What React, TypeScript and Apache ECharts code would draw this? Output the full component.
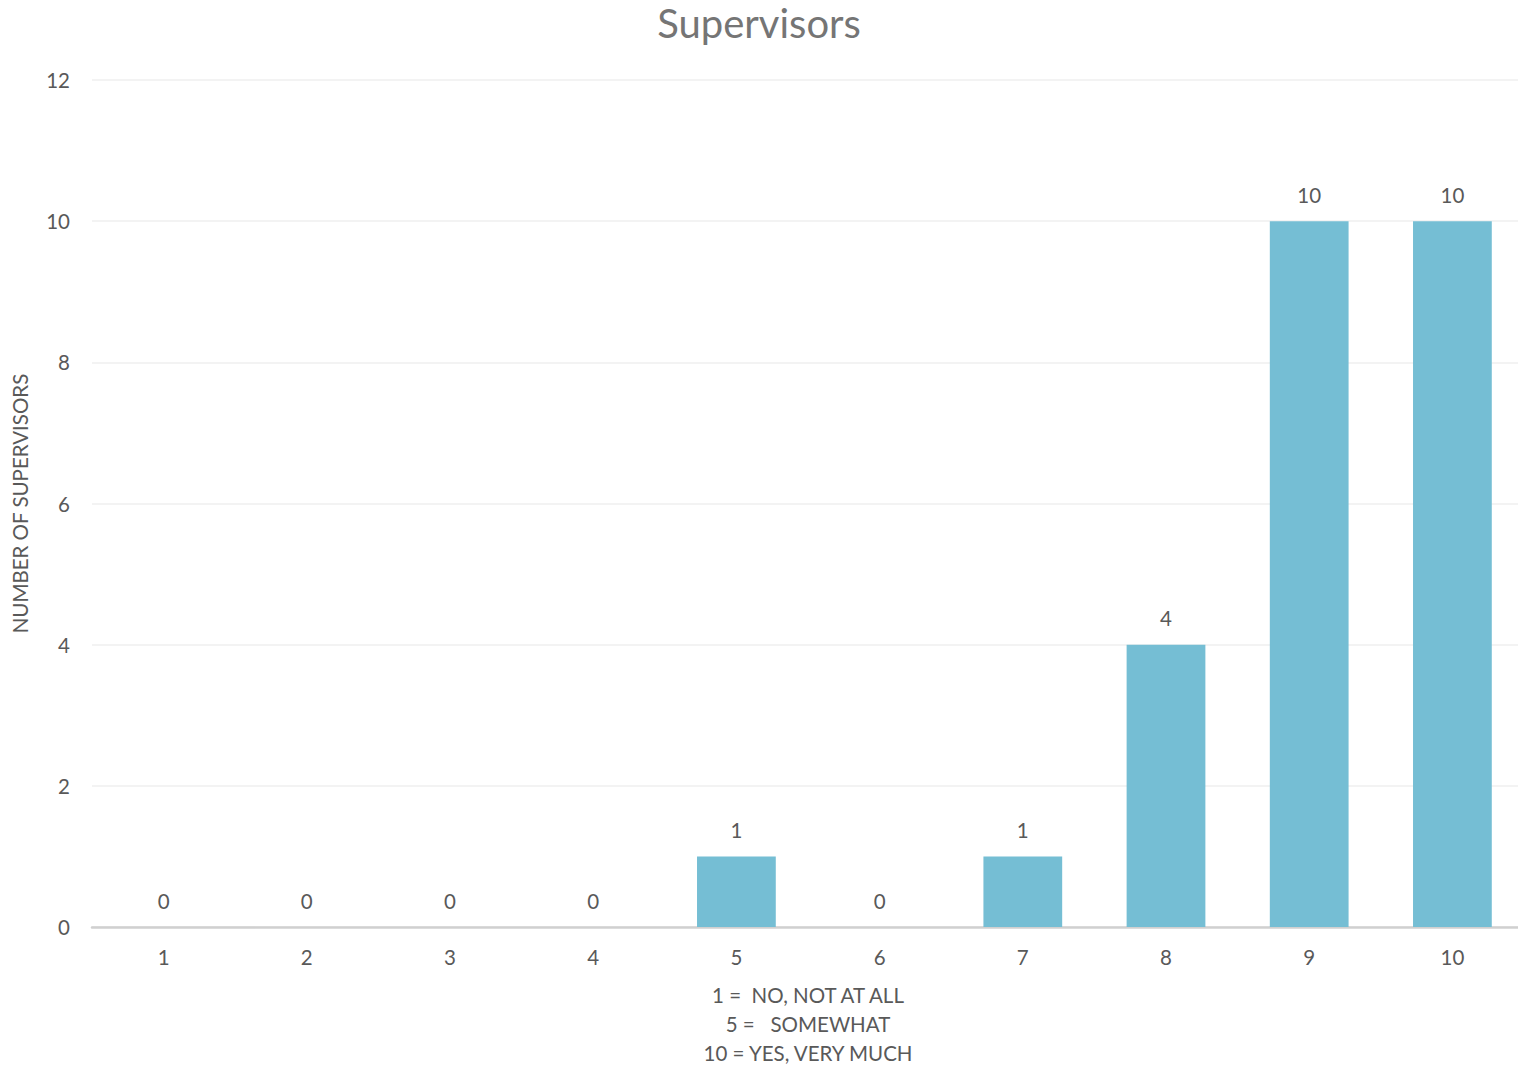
import React, { useEffect, useRef } from "react";
import * as echarts from "echarts";

const categories = ["1", "2", "3", "4", "5", "6", "7", "8", "9", "10"];
const supervisorCounts = [0, 0, 0, 0, 1, 0, 1, 4, 10, 10];
const scaleLegendLines = ["1 =  NO, NOT AT ALL", "5 =   SOMEWHAT", "10 = YES, VERY MUCH"];

const FONT = "Lato, 'Open Sans', sans-serif";
const TEXT = "#595959";

export default function App() {
  const ref = useRef<HTMLDivElement>(null);

  useEffect(() => {
    if (!ref.current) return;
    const chart = echarts.init(ref.current, undefined, { renderer: "svg" });
    chart.setOption({
      animation: false,
      backgroundColor: "#ffffff",
      title: {
        text: "Supervisors",
        left: "center",
        top: 3,
        padding: 0,
        textStyle: {
          fontFamily: FONT,
          fontSize: 40,
          lineHeight: 40,
          fontWeight: "normal",
          color: "#757575",
        },
      },
      grid: {
        left: 92,
        top: 80,
        width: 1432,
        height: 847,
        containLabel: false,
        outerBoundsMode: "none",
      },
      xAxis: {
        type: "category",
        data: categories,
        axisLine: { lineStyle: { color: "#d0d0d0", width: 2.5 } },
        axisTick: { show: false },
        axisLabel: { color: TEXT, fontFamily: FONT, fontSize: 20.5, margin: 19 },
        name: scaleLegendLines.join("\n"),
        nameLocation: "middle",
        nameGap: 53,
        nameTextStyle: {
          color: TEXT,
          fontFamily: FONT,
          fontSize: 20.5,
          lineHeight: 29,
          align: "center",
          verticalAlign: "top",
        },
      },
      yAxis: {
        type: "value",
        min: 0,
        max: 12,
        interval: 2,
        axisLine: { show: false },
        axisTick: { show: false },
        splitLine: { lineStyle: { color: "#efefef", width: 1.5 } },
        axisLabel: { color: TEXT, fontFamily: FONT, fontSize: 20.5, margin: 22 },
        name: "NUMBER OF SUPERVISORS",
        nameLocation: "middle",
        nameGap: 62,
        nameTextStyle: { color: TEXT, fontFamily: FONT, fontSize: 20.5 },
      },
      series: [
        {
          type: "bar",
          data: supervisorCounts,
          barWidth: "55%",
          itemStyle: { color: "#75bed4" },
          label: {
            show: true,
            position: "top",
            distance: 16,
            color: TEXT,
            fontFamily: FONT,
            fontSize: 20.5,
          },
        },
      ],
    });
    return () => chart.dispose();
  }, []);

  return (
    <div
      ref={ref}
      style={{ position: "fixed", left: 0, top: 0, width: 1518, height: 1067, background: "#fff" }}
    />
  );
}
